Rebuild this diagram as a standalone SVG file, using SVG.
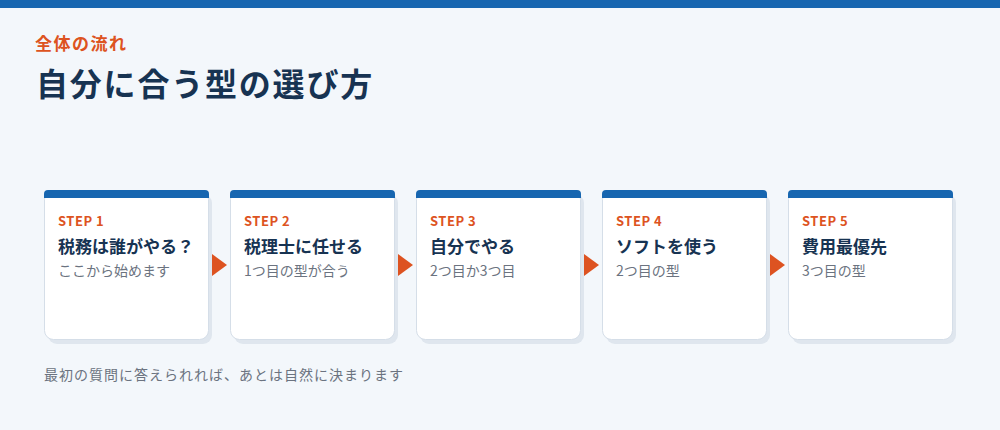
<svg xmlns="http://www.w3.org/2000/svg" width="1000" height="430" viewBox="0 0 1000 430">
<style>
text{font-family:"Noto Sans CJK JP","Noto Sans",sans-serif}
.card{fill:#ffffff;stroke:#d5dee8;stroke-width:1}
.shadow{fill:#dfe6ee}
.bar{fill:#1766b0}
.step{fill:#dd5321;font-size:13px;font-weight:700;letter-spacing:0.5px}
.title{fill:#173352;font-size:17px;font-weight:700}
.sub{fill:#6b7380;font-size:14px}
.arrow{fill:#dd5321}
</style>
<rect width="1000" height="430" fill="#f3f7fb"/>
<rect width="1000" height="8" fill="#1766b0"/>
<text x="35" y="50" font-size="17" font-weight="700" letter-spacing="1.5" fill="#dd5321">全体の流れ</text>
<text x="36" y="96" font-size="32" font-weight="700" letter-spacing="1.8" fill="#173352">自分に合う型の選び方</text>
<g id="connectors">
<polygon class="arrow" points="212,254 227,265 212,276"/>
<polygon class="arrow" points="398,254 413,265 398,276"/>
<polygon class="arrow" points="584,254 599,265 584,276"/>
<polygon class="arrow" points="770,254 785,265 770,276"/>
</g>
<g id="step1">
<rect class="shadow" x="48" y="194" width="164" height="150" rx="9"/>
<rect class="card" x="44.5" y="190.5" width="164" height="149" rx="9"/>
<path class="bar" d="M44,198 V194 a4,4 0 0 1 4,-4 H205 a4,4 0 0 1 4,4 V198 Z"/>
<text class="step" x="58" y="226">STEP 1</text>
<text class="title" x="58" y="253">税務は誰がやる？</text>
<text class="sub" x="58" y="276">ここから始めます</text>
</g>
<g id="step2">
<rect class="shadow" x="234" y="194" width="164" height="150" rx="9"/>
<rect class="card" x="230.5" y="190.5" width="164" height="149" rx="9"/>
<path class="bar" d="M230,198 V194 a4,4 0 0 1 4,-4 H391 a4,4 0 0 1 4,4 V198 Z"/>
<text class="step" x="244" y="226">STEP 2</text>
<text class="title" x="244" y="253">税理士に任せる</text>
<text class="sub" x="244" y="276">1つ目の型が合う</text>
</g>
<g id="step3">
<rect class="shadow" x="420" y="194" width="164" height="150" rx="9"/>
<rect class="card" x="416.5" y="190.5" width="164" height="149" rx="9"/>
<path class="bar" d="M416,198 V194 a4,4 0 0 1 4,-4 H577 a4,4 0 0 1 4,4 V198 Z"/>
<text class="step" x="430" y="226">STEP 3</text>
<text class="title" x="430" y="253">自分でやる</text>
<text class="sub" x="430" y="276">2つ目か3つ目</text>
</g>
<g id="step4">
<rect class="shadow" x="606" y="194" width="164" height="150" rx="9"/>
<rect class="card" x="602.5" y="190.5" width="164" height="149" rx="9"/>
<path class="bar" d="M602,198 V194 a4,4 0 0 1 4,-4 H763 a4,4 0 0 1 4,4 V198 Z"/>
<text class="step" x="616" y="226">STEP 4</text>
<text class="title" x="616" y="253">ソフトを使う</text>
<text class="sub" x="616" y="276">2つ目の型</text>
</g>
<g id="step5">
<rect class="shadow" x="792" y="194" width="164" height="150" rx="9"/>
<rect class="card" x="788.5" y="190.5" width="164" height="149" rx="9"/>
<path class="bar" d="M788,198 V194 a4,4 0 0 1 4,-4 H949 a4,4 0 0 1 4,4 V198 Z"/>
<text class="step" x="802" y="226">STEP 5</text>
<text class="title" x="802" y="253">費用最優先</text>
<text class="sub" x="802" y="276">3つ目の型</text>
</g>
<text x="44" y="380" font-size="14" letter-spacing="1" fill="#6b7380">最初の質問に答えられれば、あとは自然に決まります</text>
</svg>
